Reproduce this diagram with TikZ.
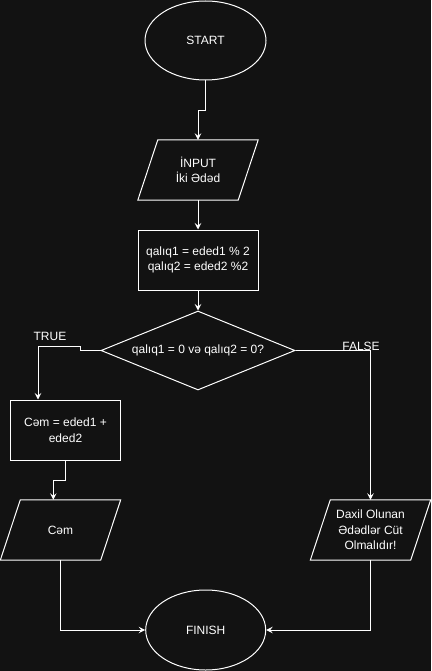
\documentclass[tikz,border=0pt]{standalone}
\usepackage{fontspec}
\setmainfont{Liberation Sans}
\usetikzlibrary{shapes.geometric,calc,arrows.meta}
\definecolor{bgc}{HTML}{121212}
\begin{document}
\begin{tikzpicture}[x=1pt,y=-1pt,
  every node/.style={text=white,font=\fontsize{12}{15.5}\selectfont,align=center},
  shp/.style={draw=white,line width=1pt},
  term/.style={shp,ellipse,inner sep=0pt},
  box/.style={shp,rectangle,inner sep=0pt},
  iobox/.style={rectangle,inner sep=0pt,minimum width=100pt,minimum height=60pt},
  dec/.style={shp,diamond,aspect=2.456,inner sep=0pt},
  conn/.style={draw=white,line width=1pt},
  arr/.style={conn,-{Stealth[length=6.5pt,width=6.5pt,inset=2.5pt]}},
  lbl/.style={inner sep=0pt}]
\fill[bgc] (0,0) rectangle (431,671);
\useasboundingbox (0,0) rectangle (431,671);

\node[term,minimum width=121pt,minimum height=79pt] (start) at (205.5,40.5) {START};
\node[iobox] (in) at (198,170) {İNPUT\\İki Ədəd};
\node[box,minimum width=120pt,minimum height=60pt] (rem) at (198,260) {qalıq1 = eded1 \% 2\\qalıq2 = eded2 \%2};
\node[dec,minimum width=194pt,minimum height=79pt] (cond) at (198,350.5) {qalıq1 = 0 və qalıq2 = 0?};
\node[box,minimum width=110pt,minimum height=60pt] (sum) at (65.5,430) {Cəm = eded1 +\\eded2};
\node[iobox] (out) at (60.5,530) {Cəm};
\node[iobox] (msg) at (370.5,530) {Daxil Olunan\\Ədədlər Cüt\\Olmalıdır!};
\node[term,minimum width=120pt,minimum height=80pt] (finish) at (205.7,630) {FINISH};

\foreach \n in {in,out,msg}{
  \draw[shp] ($(\n.north west)+(10,0)$) -- ($(\n.north east)+(10,0)$) --
    ($(\n.south east)+(-10,0)$) -- ($(\n.south west)+(-10,0)$) -- cycle;
}

\node[lbl] (tl) at (50,336) {TRUE};
\node[lbl] (fl) at (361,346) {FALSE};

\coordinate (t1) at (80,346);
\coordinate (t2) at (38,346);
\coordinate (s1) at (53.3,480);

\draw[arr] (start.south) -- ++(0,30) -| (in.north);
\draw[arr] (in.south) -- (rem.north);
\draw[arr] (rem.south) -- (cond.north);
\draw[arr] (cond.west) -- (cond.west -| t1) -- (t1) -- (t2) -- (t2 |- sum.north);
\draw[arr] (cond.east) -| (msg.north);
\draw[arr] (sum.south) |- (s1) -- (s1 |- out.north);
\draw[arr] (out.south) |- (finish.west);
\draw[arr] (msg.south) |- (finish.east);
\end{tikzpicture}
\end{document}
